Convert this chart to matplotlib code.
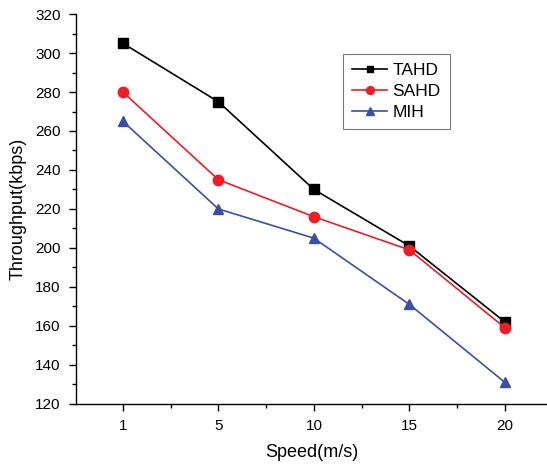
import numpy as np
import matplotlib
matplotlib.use("Agg")
import matplotlib.pyplot as plt
from matplotlib.ticker import MultipleLocator

plt.rcParams["font.family"] = ["Liberation Sans", "DejaVu Sans"]

speeds = ["1", "5", "10", "15", "20"]
tahd = [305, 275, 230, 201, 162]
sahd = [280, 235, 216, 199, 159]
mih = [265, 220, 205, 171, 131]

fig = plt.figure(figsize=(5.47, 4.68), dpi=100)
ax = fig.add_axes([0.139, 0.137, 0.861, 0.833])

x = np.arange(len(speeds))
ax.plot(x, tahd, color="black", marker="s", markersize=6.5, linewidth=1.2, label="TAHD")
ax.plot(x, sahd, color="#ee1c25", marker="o", markersize=7.5, linewidth=1.2, label="SAHD")
ax.plot(x, mih, color="#3a4ea5", marker="^", markersize=7.5, linewidth=1.2, label="MIH")

ax.set_xlim(-0.49, 4.44)
ax.set_ylim(120, 320)
ax.set_xticks(x)
ax.set_xticklabels(speeds)
ax.xaxis.set_minor_locator(MultipleLocator(0.5))
ax.yaxis.set_major_locator(MultipleLocator(20))
ax.yaxis.set_minor_locator(MultipleLocator(10))

for side in ("top", "right"):
    ax.spines[side].set_visible(False)
for side in ("left", "bottom"):
    ax.spines[side].set_linewidth(1.0)

ax.tick_params(axis="both", which="major", direction="out", length=5, width=1.0,
               labelsize=11, pad=6)
ax.tick_params(axis="both", which="minor", direction="out", length=3, width=1.0)

ax.set_xlabel("Speed(m/s)", fontsize=13, labelpad=8)
ax.set_ylabel("Throughput(kbps)", fontsize=13, labelpad=6)

leg = ax.legend(loc="upper left", bbox_to_anchor=(0.548, 0.921), fontsize=12.5,
                frameon=True, fancybox=False, edgecolor="#555555",
                handlelength=2.0, handletextpad=0.3, labelspacing=0.32,
                borderpad=0.55, markerscale=0.75)
leg.get_frame().set_linewidth(0.8)

fig.savefig("out.png", dpi=100)
